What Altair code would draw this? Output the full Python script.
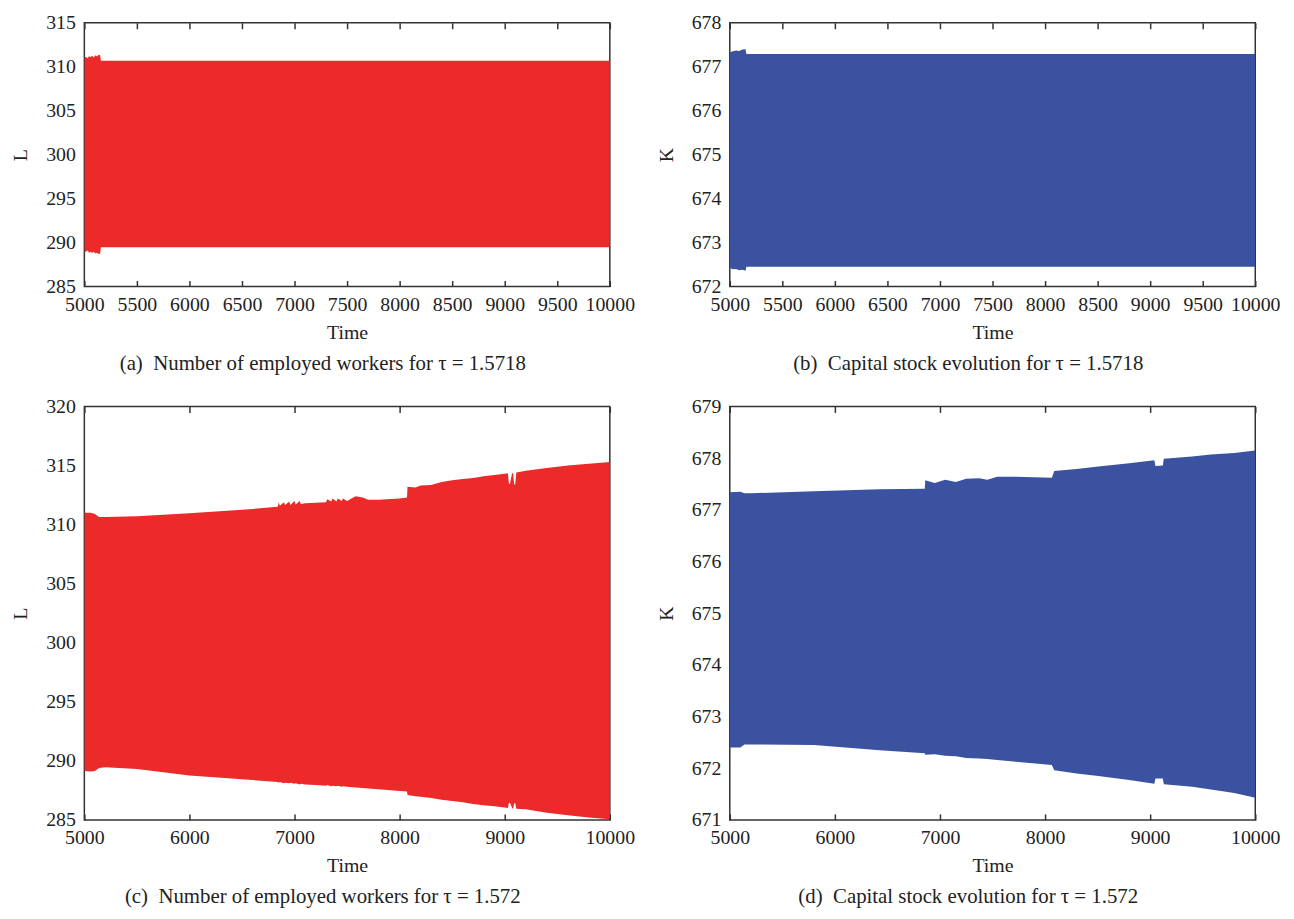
import altair as alt
import pandas as pd

# ---------------- data (envelopes of the oscillating series) ----------------
# (a) L, tau = 1.5718
a_time  = [5000, 5015, 5030, 5045, 5060, 5075, 5090, 5105, 5120, 5135, 5150, 5158, 10000]
a_upper = [311.05, 311.1, 310.95, 311.2, 311.1, 311.25, 311.05, 311.3, 311.15, 311.35, 311.3, 310.67, 310.67]
a_lower = [289.0, 288.95, 289.1, 288.85, 288.95, 288.8, 288.95, 288.75, 288.85, 288.7, 288.75, 289.45, 289.45]

# (b) K, tau = 1.5718
b_time  = [5000, 5030, 5060, 5090, 5120, 5150, 5158, 10000]
b_upper = [677.33, 677.35, 677.37, 677.36, 677.39, 677.40, 677.29, 677.29]
b_lower = [672.42, 672.39, 672.40, 672.37, 672.38, 672.36, 672.45, 672.45]

# (c) L, tau = 1.572
c_time  = [5000, 5060, 5100, 5140, 5200, 5500, 6000, 6500, 6840, 6850, 6860, 6900, 6910, 6950,
           6960, 7000, 7010, 7050, 7060, 7100, 7200, 7300, 7310, 7350, 7360, 7400, 7410, 7450,
           7460, 7500, 7580, 7650, 7700, 7800, 8000, 8070, 8075, 8150, 8200, 8300, 8400, 8500,
           8600, 8700, 8800, 8900, 9000, 9030, 9040, 9050, 9070, 9080, 9090, 9100, 9110, 9200,
           9400, 9600, 9800, 10000]
c_upper = [311.0, 311.0, 310.9, 310.65, 310.65, 310.7, 310.95, 311.25, 311.5, 311.9, 311.6, 311.9,
           311.65, 311.95, 311.65, 312.0, 311.7, 312.0, 311.75, 311.8, 311.85, 311.9, 312.15, 311.95,
           312.2, 311.95, 312.2, 312.0, 312.2, 312.0, 312.4, 312.3, 312.1, 312.1, 312.2, 312.3,
           313.2, 313.15, 313.3, 313.35, 313.6, 313.75, 313.85, 313.95, 314.1, 314.2, 314.3, 314.35,
           313.45, 313.45, 314.35, 314.35, 313.4, 313.4, 314.4, 314.55, 314.8, 315.0, 315.15, 315.3]
c_lower = [289.15, 289.1, 289.15, 289.4, 289.45, 289.3, 288.75, 288.45, 288.2, 288.15, 288.2, 288.1,
           288.15, 288.1, 288.15, 288.05, 288.1, 288.0, 288.05, 288.0, 287.95, 287.9, 287.95, 287.85,
           287.9, 287.85, 287.9, 287.8, 287.85, 287.8, 287.75, 287.7, 287.65, 287.6, 287.45, 287.4,
           287.1, 287.0, 286.95, 286.85, 286.7, 286.6, 286.5, 286.35, 286.25, 286.15, 286.05, 286.0,
           286.45, 286.45, 286.0, 285.95, 286.4, 286.4, 285.95, 285.9, 285.6, 285.4, 285.2, 285.05]

# (d) K, tau = 1.572
d_time  = [5000, 5100, 5140, 5200, 5800, 6427, 6855, 6860, 6950, 7050, 7150, 7250, 7372, 7450,
           7545, 7700, 8065, 8087, 8300, 8507, 8800, 9040, 9050, 9120, 9130, 9400, 9578, 9800, 10000]
d_upper = [677.34, 677.35, 677.32, 677.32, 677.36, 677.40, 677.41, 677.57, 677.52, 677.58, 677.54,
           677.60, 677.61, 677.58, 677.64, 677.64, 677.62, 677.75, 677.79, 677.84, 677.90, 677.96,
           677.85, 677.86, 677.99, 678.03, 678.07, 678.10, 678.15]
d_lower = [672.40, 672.40, 672.46, 672.46, 672.45, 672.35, 672.29, 672.26, 672.27, 672.24, 672.23,
           672.20, 672.19, 672.18, 672.16, 672.13, 672.06, 671.96, 671.90, 671.85, 671.77, 671.70,
           671.80, 671.80, 671.69, 671.64, 671.59, 671.52, 671.43]

x_ticks_top = [5000, 5500, 6000, 6500, 7000, 7500, 8000, 8500, 9000, 9500, 10000]
x_ticks_bottom = [5000, 6000, 7000, 8000, 9000, 10000]
y_ticks_a = [285, 290, 295, 300, 305, 310, 315]
y_ticks_b = [672, 673, 674, 675, 676, 677, 678]
y_ticks_c = [285, 290, 295, 300, 305, 310, 315, 320]
y_ticks_d = [671, 672, 673, 674, 675, 676, 677, 678, 679]

captions = [
    "(a)\u00a0\u00a0Number of employed workers for τ = 1.5718",
    "(b)\u00a0\u00a0Capital stock evolution for τ = 1.5718",
    "(c)\u00a0\u00a0Number of employed workers for τ = 1.572",
    "(d)\u00a0\u00a0Capital stock evolution for τ = 1.572",
]

RED = "#EC2A2A"
BLUE = "#3A52A0"
FONT = "Liberation Serif"
FRAME = "#333333"
TXT = "#222222"
TICK = 6


def panel(t, up, lo, color, ydom, yticks, xticks, ytitle, caption, w, h):
    df = pd.DataFrame({"t": t, "up": up, "lo": lo})
    tdf = pd.DataFrame({"tk": xticks})
    xscale = alt.Scale(domain=[5000, 10000], nice=False, zero=False)
    # bottom axis moved inside the frame by TICK px, so its ticks point inward
    xaxis = alt.Axis(values=xticks, title="Time", format="d", labelFlush=False,
                     labelOverlap=False, domain=False, ticks=True, tickSize=TICK,
                     tickColor=FRAME, tickWidth=1.5, offset=-TICK, grid=False,
                     labelFont=FONT, labelFontSize=20, labelColor=TXT, labelPadding=8,
                     titleFont=FONT, titleFontSize=20, titleFontWeight="normal",
                     titleColor=TXT, titlePadding=8)
    # top axis: ticks only, also moved inside
    top_axis = alt.Axis(values=xticks, orient="top", title=None, labels=False,
                        domain=False, ticks=True, tickSize=TICK, tickColor=FRAME,
                        tickWidth=1.5, offset=-TICK, grid=False)
    yaxis = alt.Axis(values=yticks, title=ytitle, format="d", domain=False, ticks=False,
                     grid=False, labelFont=FONT, labelFontSize=20, labelColor=TXT,
                     labelPadding=9, titleFont=FONT, titleFontSize=20,
                     titleFontWeight="normal", titleColor=TXT, titlePadding=15)
    area = alt.Chart(df).mark_area(color=color, opacity=1, clip=True, interpolate="linear").encode(
        x=alt.X("t:Q", scale=xscale, axis=xaxis),
        y=alt.Y("up:Q", scale=alt.Scale(domain=ydom, nice=False, zero=False), axis=yaxis),
        y2="lo:Q",
    )
    top = alt.Chart(tdf).mark_point(opacity=0).encode(
        x=alt.X("tk:Q", scale=xscale, axis=top_axis),
    )
    return alt.layer(area, top).resolve_scale(x="independent").properties(
        width=w, height=h,
        title=alt.TitleParams(caption, orient="bottom", anchor="middle", frame="bounds",
                              font=FONT, fontSize=21, fontWeight="normal", color=TXT,
                              offset=11),
    )


W = 530
H1 = 266
H2 = 417

pa = panel(a_time, a_upper, a_lower, RED, [285, 315], y_ticks_a, x_ticks_top, "L",
           captions[0], W, H1)
pb = panel(b_time, b_upper, b_lower, BLUE, [672, 678], y_ticks_b, x_ticks_top, "K",
           captions[1], W, H1)
pc = panel(c_time, c_upper, c_lower, RED, [285, 320], y_ticks_c, x_ticks_bottom, "L",
           captions[2], W, H2)
pd_ = panel(d_time, d_upper, d_lower, BLUE, [671, 679], y_ticks_d, x_ticks_bottom, "K",
            captions[3], W, H2)

chart = alt.concat(
    pa, pb, pc, pd_, columns=2, bounds="flush",
    spacing=alt.RowColnumber(row=121, column=121),
).properties(
    padding={"left": 2, "top": 0, "right": 5, "bottom": 0},
    background="white",
).configure_view(
    stroke=FRAME, strokeWidth=1.5
)

chart.save("out.html", embed_options={"renderer": "svg", "actions": False})
